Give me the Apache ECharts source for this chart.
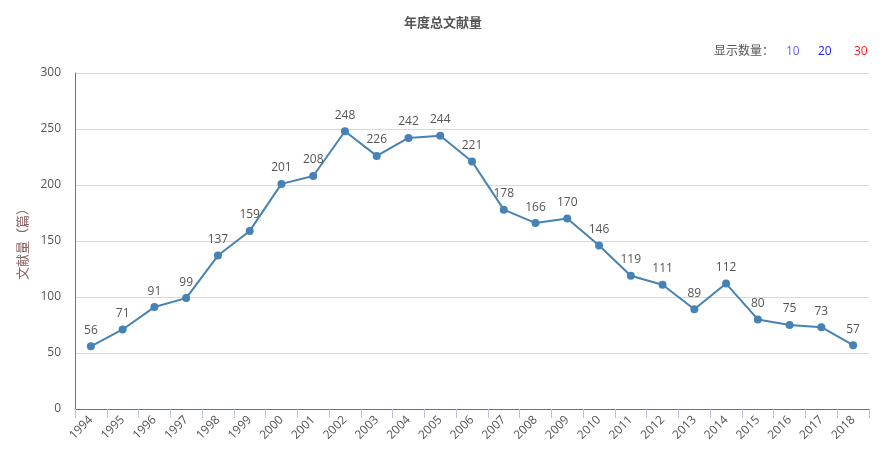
<!DOCTYPE html>
<html><head><meta charset="utf-8">
<script src="https://cdn.jsdelivr.net/npm/echarts@6/dist/echarts.min.js"></script>
<style>html,body{margin:0;padding:0;background:#fff}#c{width:886px;height:459px}</style>
</head><body><div id="c"></div>
<script>
const years = ['1994','1995','1996','1997','1998','1999','2000','2001','2002','2003','2004','2005','2006','2007','2008','2009','2010','2011','2012','2013','2014','2015','2016','2017','2018'];
const counts = [56,71,91,99,137,159,201,208,248,226,242,244,221,178,166,170,146,119,111,89,112,80,75,73,57];
const yTicks = [0,50,100,150,200,250,300];
const chart = echarts.init(document.getElementById('c'));
const font = '"Open Sans","Noto Sans CJK SC",sans-serif';
chart.setOption({
  animation:false,
  title:{text:'年度总文献量',left:'center',top:12,textStyle:{fontSize:13,fontWeight:'bold',color:'#555',fontFamily:font}},
  graphic:[
    {type:'text',left:714,top:46,style:{text:'显示数量：',fill:'#555',font:'12px '+font}},
    {type:'text',left:786,top:46,style:{text:'10',fill:'#6a5cff',font:'12px '+font}},
    {type:'text',left:818,top:46,style:{text:'20',fill:'#1a1aff',font:'12px '+font}},
    {type:'text',left:854,top:46,style:{text:'30',fill:'#ff2020',font:'12px '+font}}
  ],
  grid:{left:75,right:17,top:73,bottom:50},
  xAxis:{type:'category',data:years,boundaryGap:true,
    axisLine:{show:true,lineStyle:{color:'#1e8bc3',width:1}},
    axisTick:{show:true,alignWithLabel:false,length:9,lineStyle:{color:'#b4c6dc'}},
    axisLabel:{rotate:45,color:'#555',fontSize:12,fontFamily:font,interval:0,margin:9}},
  yAxis:{type:'value',min:0,max:300,interval:50,
    name:'文献量（篇）',nameLocation:'middle',nameGap:40,nameRotate:90,
    nameTextStyle:{color:'#8b6060',fontSize:13,fontFamily:font},
    axisLine:{show:true,lineStyle:{color:'#1e8bc3',width:1}},axisTick:{show:false},
    splitLine:{lineStyle:{color:'#d9d9d9'}},
    axisLabel:{color:'#555',fontSize:12,fontFamily:font,margin:14,
      formatter:v=>yTicks.includes(v)?String(v):''}},
  series:[{type:'line',data:counts,symbol:'circle',symbolSize:8,
    lineStyle:{color:'#4682b4',width:2},itemStyle:{color:'#4682b4'},
    label:{show:true,position:'top',distance:6,color:'#555',fontSize:12,fontFamily:font}}]
});
</script></body></html>
